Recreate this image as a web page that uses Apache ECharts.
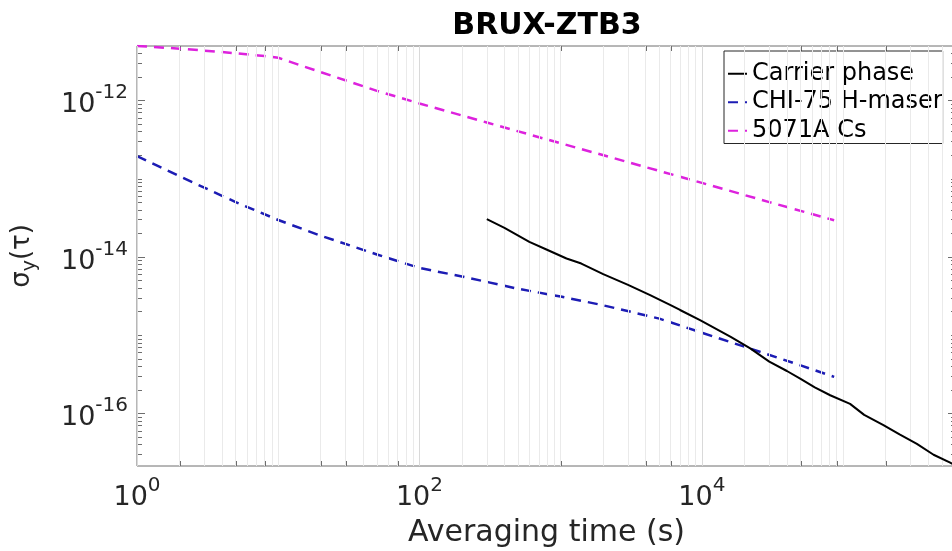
<!DOCTYPE html>
<html>
<head>
<meta charset="utf-8">
<script src="https://cdn.jsdelivr.net/npm/echarts@6/dist/echarts.min.js"></script>
<style>
  html, body { margin: 0; padding: 0; background: #ffffff; }
  #chart { width: 952px; height: 551px; }
</style>
</head>
<body>
<div id="chart"></div>
<script>
// Allan deviation of the BRUX-ZTB3 link compared with reference clock models

// Carrier-phase solution
const carrierTau = [300, 400, 600, 800, 1100, 1400, 2000, 3000, 4300, 6000, 7000, 9700,
  16000, 22000, 30000, 40000, 50000, 63000, 81000, 112000, 141000, 193000, 251000,
  333000, 437000, 573000, 630000];
const carrierAdev = [3.02e-14, 2.34e-14, 1.55e-14, 1.23e-14, 9.5e-15, 8.2e-15, 6.0e-15,
  4.37e-15, 3.24e-15, 2.41e-15, 2.09e-15, 1.55e-15, 9.5e-16, 6.76e-16, 4.57e-16,
  3.47e-16, 2.75e-16, 2.14e-16, 1.70e-16, 1.32e-16, 9.55e-17, 7.08e-17, 5.37e-17,
  4.07e-17, 2.95e-17, 2.34e-17, 2.12e-17];

// CHI-75 hydrogen maser model
const maserTau = [1, 2, 5, 10, 20, 50, 100, 200, 500, 1000, 2000, 5000, 10000, 20000, 50000, 86400];
const maserAdev = [1.93e-13, 1.07e-13, 5.0e-14, 2.95e-14, 1.86e-14, 1.07e-14, 7.2e-15, 5.6e-15,
  3.9e-15, 3.1e-15, 2.4e-15, 1.62e-15, 1.07e-15, 7.1e-16, 4.1e-16, 2.92e-16];

// 5071A caesium standard model
const cesiumTau = [1, 2, 4, 8, 10, 20, 50, 100, 300, 1000, 3000, 10000, 30000, 86400];
const cesiumAdev = [4.94e-12, 4.57e-12, 4.14e-12, 3.68e-12, 3.49e-12, 2.29e-12, 1.32e-12,
  9.1e-13, 5.2e-13, 2.82e-13, 1.62e-13, 8.8e-14, 5.0e-14, 2.93e-14];

// Axis limits and labelled decades (tick labels read "10^n")
const xMin = 1, xMax = 6.3e5;
const yMin = 2.12e-17, yMax = 4.94e-12;
const xLabelExponents = [0, 2, 4];
const yLabelExponents = [-16, -14, -12];

const FONT = 'DejaVu Sans';
const AXIS_TEXT = '#262626';
const BASE_SIZE = 27, EXP_SIZE = 20;

// Text widths for placing "10" and its exponent side by side
const measureCtx = document.createElement('canvas').getContext('2d');
function textWidth(str, size) {
  measureCtx.font = size + 'px "' + FONT + '"';
  return measureCtx.measureText(str).width;
}

// Tick / grid positions on a log axis: labelled decades are major, the rest minor
function logTicks(lo, hi, majorExps) {
  const major = [], minor = [];
  const e0 = Math.floor(Math.log10(lo)), e1 = Math.ceil(Math.log10(hi));
  for (let e = e0; e <= e1; e++) {
    for (let m = 1; m <= 9; m++) {
      const v = m * Math.pow(10, e);
      if (v < lo * 0.999 || v > hi * 1.001) continue;
      if (m === 1 && majorExps.includes(e)) major.push(v); else minor.push(v);
    }
  }
  return { major, minor };
}
const xT = logTicks(xMin, xMax, xLabelExponents);
const yT = logTicks(yMin, yMax, yLabelExponents);

// Tick items: [x, y, axis (0 = x, 1 = y), length, labelled (1/0)]
const tickItems = [];
xT.major.forEach(v => tickItems.push([v, yMin, 0, 8, 1]));
xT.minor.forEach(v => tickItems.push([v, yMin, 0, 5, 0]));
yT.major.forEach(v => tickItems.push([xMin, v, 1, 8, 1]));
yT.minor.forEach(v => tickItems.push([xMin, v, 1, 5, 0]));

const majorGrid = { color: '#d9d9d9', width: 1, type: 'solid' };
const minorGrid = { color: '#eaeaea', width: 1, type: 'solid' };
const gridLines = [];
xT.major.forEach(v => gridLines.push({ xAxis: v, lineStyle: majorGrid }));
xT.minor.forEach(v => gridLines.push({ xAxis: v, lineStyle: minorGrid }));
yT.major.forEach(v => gridLines.push({ yAxis: v, lineStyle: majorGrid }));
yT.minor.forEach(v => gridLines.push({ yAxis: v, lineStyle: minorGrid }));

function powerText(x, y, exp, anchor) {
  // "10" plus a raised exponent; anchor 'center' (x axis) or 'right' (y axis)
  const es = String(exp);
  const wb = textWidth('10', BASE_SIZE), we = textWidth(es, EXP_SIZE);
  const left = anchor === 'center' ? x - (wb + we) / 2 : x - (wb + we);
  return [
    { type: 'text', x: left, y: y, style: { text: '10', fill: AXIS_TEXT,
      font: BASE_SIZE + 'px "' + FONT + '"', align: 'left', verticalAlign: 'middle' } },
    { type: 'text', x: left + wb, y: y - 12, style: { text: es, fill: AXIS_TEXT,
      font: EXP_SIZE + 'px "' + FONT + '"', align: 'left', verticalAlign: 'middle' } }
  ];
}

const chart = echarts.init(document.getElementById('chart'), null, { renderer: 'canvas' });
chart.setOption({
  animation: false,
  backgroundColor: '#ffffff',
  title: {
    text: 'BRUX-ZTB3',
    left: 542,
    textAlign: 'center',
    top: 6,
    textStyle: { fontFamily: FONT, fontSize: 30, fontWeight: 'bold', color: '#000000' }
  },
  grid: {
    left: 137, right: -4, top: 46, bottom: 85,
    outerBoundsMode: 'none', containLabel: false,
    show: true, borderColor: '#6e6e6e', borderWidth: 1, backgroundColor: 'transparent'
  },
  legend: {
    data: ['Carrier phase', 'CHI-75 H-maser', '5071A Cs'],
    orient: 'vertical',
    left: 724, top: 51,
    padding: [10, 0, 0, 3],
    itemWidth: 19, itemHeight: 14, itemGap: 3,
    itemStyle: { opacity: 0 },
    backgroundColor: '#ffffff',
    borderColor: '#262626', borderWidth: 1,
    textStyle: { fontFamily: FONT, fontSize: 24, color: '#000000', lineHeight: 25.5 }
  },
  xAxis: {
    type: 'log', logBase: 10, min: xMin, max: xMax,
    name: 'Averaging time (s)', nameLocation: 'middle', nameGap: 52,
    nameTextStyle: { fontFamily: FONT, fontSize: 30, color: AXIS_TEXT },
    axisLine: { show: false }, axisTick: { show: false }, splitLine: { show: false },
    axisLabel: { show: false }
  },
  yAxis: {
    type: 'log', logBase: 10, min: yMin, max: yMax,
    name: '{a|σ}{c|y}{a|(τ)}', nameLocation: 'middle', nameGap: 97,
    nameTextStyle: {
      rich: {
        a: { fontFamily: FONT, fontSize: 26, color: AXIS_TEXT },
        c: { fontFamily: FONT, fontSize: 19, color: AXIS_TEXT, padding: [16, 0, 0, 0] }
      }
    },
    axisLine: { show: false }, axisTick: { show: false }, splitLine: { show: false },
    axisLabel: { show: false }
  },
  series: [
    {
      name: 'grid', type: 'line', data: [], silent: true, z: 1,
      markLine: { silent: true, symbol: ['none', 'none'], label: { show: false },
        animation: false, data: gridLines }
    },
    {
      name: 'ticks', type: 'custom', silent: true, clip: false, z: 3,
      data: tickItems, encode: { x: 0, y: 1 },
      renderItem: function (params, api) {
        const cs = params.coordSys;
        const axis = api.value(2), len = api.value(3), labelled = api.value(4);
        const style = { stroke: '#6e6e6e', lineWidth: 1 };
        if (axis === 0) {
          const xv = api.value(0);
          const cx = api.coord([xv, yMin])[0];
          const px = Math.round(cx) + 0.5;
          const yb = cs.y + cs.height, yt = cs.y;
          const children = [
            { type: 'line', shape: { x1: px, y1: yb, x2: px, y2: yb - len }, style },
            { type: 'line', shape: { x1: px, y1: yt, x2: px, y2: yt + len }, style }
          ];
          if (labelled) {
            children.push(...powerText(cx, yb + 32, Math.round(Math.log10(xv)), 'center'));
          }
          return { type: 'group', children };
        }
        const yv = api.value(1);
        const cy = api.coord([xMin, yv])[1];
        const py = Math.round(cy) + 0.5;
        const xl = cs.x, xr = cs.x + cs.width;
        const children = [
          { type: 'line', shape: { x1: xl, y1: py, x2: xl + len, y2: py }, style },
          { type: 'line', shape: { x1: xr, y1: py, x2: xr - len, y2: py }, style }
        ];
        if (labelled) {
          children.push(...powerText(xl - 9, cy + 5, Math.round(Math.log10(yv)), 'right'));
        }
        return { type: 'group', children };
      }
    },
    {
      name: 'Carrier phase', type: 'line', symbol: 'none', z: 5,
      data: carrierTau.map((t, i) => [t, carrierAdev[i]]),
      lineStyle: { color: '#000000', width: 2, type: 'solid' },
      itemStyle: { color: '#000000' }
    },
    {
      name: 'CHI-75 H-maser', type: 'line', symbol: 'none', z: 4,
      data: maserTau.map((t, i) => [t, maserAdev[i]]),
      lineStyle: { color: '#1c1cb4', width: 2.5, type: [10, 7] },
      itemStyle: { color: '#1c1cb4' }
    },
    {
      name: '5071A Cs', type: 'line', symbol: 'none', z: 4,
      data: cesiumTau.map((t, i) => [t, cesiumAdev[i]]),
      lineStyle: { color: '#dd22dd', width: 2.5, type: [10, 7] },
      itemStyle: { color: '#dd22dd' }
    }
  ]
});
</script>
</body>
</html>
